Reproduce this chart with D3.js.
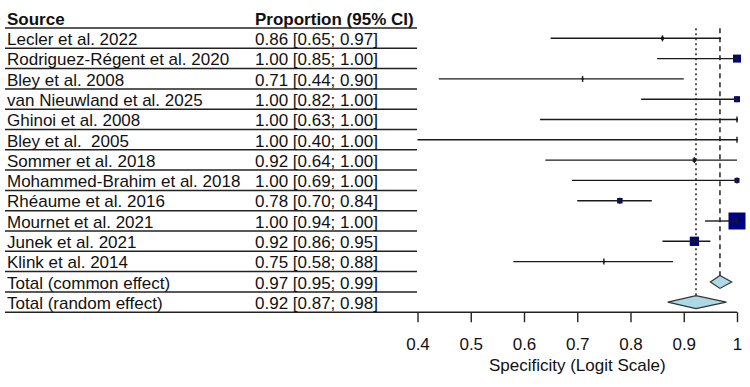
<!DOCTYPE html>
<html>
<head>
<meta charset="utf-8">
<script src="https://cdn.jsdelivr.net/npm/d3@7"></script>
<style>
  body { margin: 0; background: #fff; }
  svg { display: block; font-family: "Liberation Sans", Arial, sans-serif; }
  svg text { white-space: pre; }
</style>
</head>
<body>
<div id="forest"></div>
<script>
// study rows
const sources = [
  "Lecler et al. 2022",
  "Rodriguez-Régent et al. 2020",
  "Bley et al. 2008",
  "van Nieuwland et al. 2025",
  "Ghinoi et al. 2008",
  "Bley et al.  2005",
  "Sommer et al. 2018",
  "Mohammed-Brahim et al. 2018",
  "Rhéaume et al. 2016",
  "Mournet et al. 2021",
  "Junek et al. 2021",
  "Klink et al. 2014"
];
const estimates = [0.86, 1.00, 0.71, 1.00, 1.00, 1.00, 0.92, 1.00, 0.78, 1.00, 0.92, 0.75];
const lower = [0.65, 0.85, 0.44, 0.82, 0.63, 0.40, 0.64, 0.69, 0.70, 0.94, 0.86, 0.58];
const upper = [0.97, 1.00, 0.90, 1.00, 1.00, 1.00, 1.00, 1.00, 0.84, 1.00, 0.95, 0.88];
const weights = [1.6, 11.3, 0.7, 6.4, 0.7, 0.4, 2.1, 4.4, 5.3, 51.1, 15.2, 0.7];

// pooled rows
const pooledNames = ["Total (common effect)", "Total (random effect)"];
const pooledEst = [0.968, 0.923];
const pooledLower = [0.95, 0.87];
const pooledUpper = [0.99, 0.98];

const tickValues = [0.4, 0.5, 0.6, 0.7, 0.8, 0.9, 1];
const fmt = d3.format(".2f");

const width = 750, height = 387;
const svg = d3.select("#forest").append("svg")
  .attr("width", width)
  .attr("height", height);

const nRows = sources.length + pooledNames.length;
const x = d3.scaleLinear().domain([0.4, 1]).range([417.5, 737]);
const y = d3.scaleLinear().domain([0, nRows - 1]).range([38.3, 302.2]);
const size = d3.scaleSqrt().domain([0, d3.max(weights)]).range([0, 17]);

const rows = sources.map((s, i) => ({
  name: s, est: estimates[i], lo: lower[i], hi: upper[i], w: weights[i], pooled: false
})).concat(pooledNames.map((s, i) => ({
  name: s, est: pooledEst[i], lo: pooledLower[i], hi: pooledUpper[i], pooled: true
})));

const textColor = "#111";
const colSource = 7, colProp = 255;

// header
const header = svg.append("g").attr("font-size", 17).attr("font-weight", "bold").attr("fill", textColor);
header.append("text").attr("x", colSource).attr("y", y(0) - 20.3 + 6.7).text("Source");
header.append("text").attr("x", colProp).attr("y", y(0) - 20.3 + 6.7).text("Proportion (95% CI)");

// underlines (last one runs across as the axis line)
svg.selectAll("line.rule")
  .data(d3.range(-1, nRows))
  .enter().append("line")
  .attr("class", "rule")
  .attr("x1", 5)
  .attr("x2", (d) => d === nRows - 1 ? x(1) : 417)
  .attr("y1", (d) => y(d) + 10)
  .attr("y2", (d) => y(d) + 10)
  .attr("stroke", "#222")
  .attr("stroke-width", 1.5);

// row labels
const labels = svg.append("g").attr("font-size", 17).attr("fill", textColor);
labels.selectAll("text.src")
  .data(rows).enter().append("text")
  .attr("class", "src")
  .attr("x", colSource)
  .attr("y", (d, i) => y(i) + 6.7)
  .text((d) => d.name);
labels.selectAll("text.prop")
  .data(rows).enter().append("text")
  .attr("class", "prop")
  .attr("x", colProp)
  .attr("y", (d, i) => y(i) + 6.7)
  .text((d) => `${fmt(d.est)} [${fmt(d.lo)}; ${fmt(d.hi)}]`);

// reference lines for pooled estimates
svg.append("line")
  .attr("x1", x(pooledEst[0])).attr("x2", x(pooledEst[0]))
  .attr("y1", y(0) - 10).attr("y2", y(sources.length) - 6)
  .attr("stroke", "#222").attr("stroke-width", 1.5)
  .attr("stroke-dasharray", "5,4");
svg.append("line")
  .attr("x1", x(pooledEst[1])).attr("x2", x(pooledEst[1]))
  .attr("y1", y(0) - 10).attr("y2", y(sources.length + 1) - 6)
  .attr("stroke", "#222").attr("stroke-width", 1.5)
  .attr("stroke-dasharray", "2,3");

// study squares + CI
const studies = svg.selectAll("g.study")
  .data(rows.filter((d) => !d.pooled))
  .enter().append("g")
  .attr("class", "study")
  .attr("transform", (d, i) => `translate(0,${y(i)})`);

studies.append("rect")
  .attr("x", (d) => x(d.est) - size(d.w) / 2)
  .attr("y", (d) => -size(d.w) / 2)
  .attr("width", (d) => size(d.w))
  .attr("height", (d) => size(d.w))
  .attr("fill", "#000080");

studies.append("line")
  .attr("x1", (d) => x(d.lo))
  .attr("x2", (d) => x(d.hi))
  .attr("stroke", "#1a1a1a")
  .attr("stroke-width", 1.4);

studies.append("line")
  .attr("x1", (d) => x(d.est))
  .attr("x2", (d) => x(d.est))
  .attr("y1", -3).attr("y2", 3)
  .attr("stroke", "#1a1a1a")
  .attr("stroke-width", 1.4);

// pooled diamonds
svg.selectAll("path.diamond")
  .data(rows.filter((d) => d.pooled))
  .enter().append("path")
  .attr("class", "diamond")
  .attr("d", (d, i) => {
    const cy = y(sources.length + i);
    return `M${x(d.lo)},${cy}L${x(d.est)},${cy - 6.5}L${x(d.hi)},${cy}L${x(d.est)},${cy + 6.5}Z`;
  })
  .attr("fill", "#add8e6")
  .attr("stroke", "#333")
  .attr("stroke-width", 1.2);

// x axis
const axisY = y(nRows - 1) + 10;
const axis = svg.append("g")
  .attr("transform", `translate(0,${axisY})`)
  .call(d3.axisBottom(x).tickValues(tickValues).tickFormat(d3.format("")).tickSize(10).tickPadding(16));
axis.select(".domain").remove();
axis.selectAll(".tick line").attr("stroke", "#222").attr("stroke-width", 1.4);
axis.selectAll(".tick text")
  .attr("font-size", 17)
  .attr("font-family", "Liberation Sans, Arial, sans-serif")
  .attr("fill", textColor);

svg.append("text")
  .attr("x", x(0.7))
  .attr("y", axisY + 59)
  .attr("text-anchor", "middle")
  .attr("font-size", 17)
  .attr("fill", textColor)
  .text("Specificity (Logit Scale)");
</script>
</body>
</html>
